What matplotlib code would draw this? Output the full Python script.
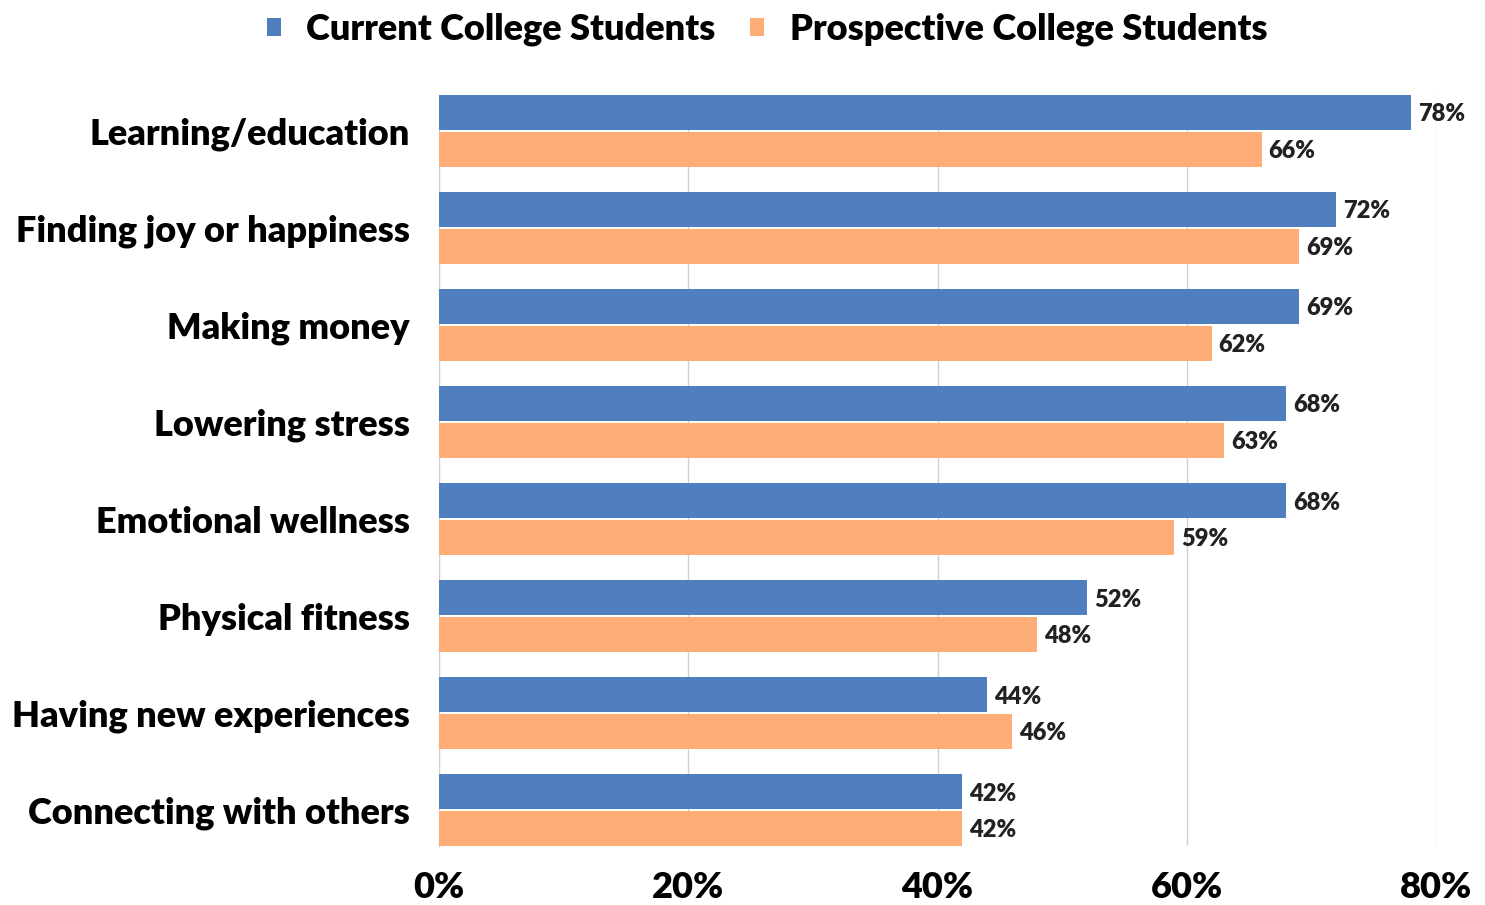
import matplotlib.pyplot as plt
import numpy as np
from matplotlib.ticker import FuncFormatter

plt.rcParams['font.family'] = ['Lato', 'DejaVu Sans']
plt.rcParams['font.weight'] = 'heavy'

categories = ["Learning/education", "Finding joy or happiness", "Making money",
              "Lowering stress", "Emotional wellness", "Physical fitness",
              "Having new experiences", "Connecting with others"]
current = [78, 72, 69, 68, 68, 52, 44, 42]
prospective = [66, 69, 62, 63, 59, 48, 46, 42]
series_names = ["Current College Students", "Prospective College Students"]
xticks = [0, 20, 40, 60, 80]

blue = "#4F7FBF"
orange = "#FFAD77"

fig = plt.figure(figsize=(14.85, 9.05), dpi=100)
ax = fig.add_axes([439/1485, 1 - 846/905, 997/1485, 751/905])

y = np.arange(len(categories))
h = 0.36
gap = 0.01
b1 = ax.barh(y - h/2 - gap, current, height=h, color=blue, label=series_names[0], zorder=3)
b2 = ax.barh(y + h/2 + gap, prospective, height=h, color=orange, label=series_names[1], zorder=3)

# value labels just past the end of each bar
for bars, vals in ((b1, current), (b2, prospective)):
    for bar, v in zip(bars, vals):
        ax.text(v + 0.55, bar.get_y() + bar.get_height()/2 + 0.02, f"{v}%",
                va='center', ha='left', fontsize=17, color='#222222', fontweight='heavy')

ax.set_ylim(len(categories) - 1 + h + gap, -h - gap)
ax.set_xlim(0, 80)
ax.set_yticks(y)
ax.set_yticklabels(categories, fontsize=26)
ax.set_xticks(xticks)
ax.xaxis.set_major_formatter(FuncFormatter(lambda v, p: f"{v:.0f}%"))
ax.tick_params(axis='x', labelsize=26, length=0, pad=18)
ax.tick_params(axis='y', length=0, pad=21)

ax.grid(axis='x', color='#D0D0D0', linewidth=1, zorder=0)
for s in ('top', 'right', 'bottom'):
    ax.spines[s].set_visible(False)
ax.spines['left'].set_color('#D0D0D0')
ax.spines['left'].set_clip_on(False)

fig.legend(handles=[b1, b2], labels=series_names, loc='upper center',
           bbox_to_anchor=(0.5165, 1.022), ncol=2, frameon=False,
           fontsize=26, handlelength=0.4, handleheight=0.4, columnspacing=0.95,
           handletextpad=0.7)

fig.savefig("out.png", dpi=100)
